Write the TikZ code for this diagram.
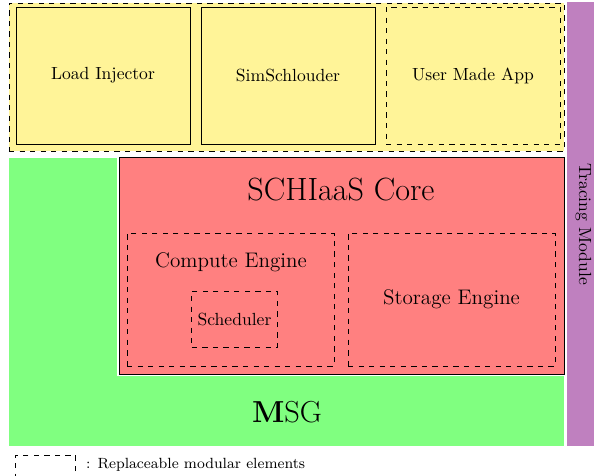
\documentclass[tikz,border=0pt]{standalone}
\usepackage{amsmath}
\usepackage{tikz}

\definecolor{appyellow}{RGB}{255,244,152}

\begin{document}
\begin{tikzpicture}[
	block/.style={rectangle, draw, fill=appyellow, minimum width=3.48cm, minimum height=2.74cm},
	modular/.style={rectangle, draw, dashed},
	engine/.style={modular, minimum width=4.14cm, minimum height=2.66cm}]
	\useasboundingbox (0,0) rectangle (11.88,-9.52);
	% applications
	\node[modular, fill=appyellow, minimum width=11.1cm, minimum height=2.96cm] (apps) at (5.73,-1.54) {};
	\node[block] (injector) at (2.06,-1.51) {Load Injector};
	\node[block] (schlouder) at (5.76,-1.51) {SimSchlouder};
	\node[block, dashed] (userapp) at (9.46,-1.51) {User Made App};
	% tracing
	\node[rectangle, fill=violet!50, minimum width=0.66cm, minimum height=8.88cm] (tracing) at (11.67,-4.48) {};
	\node[rotate=-90] (tracinglabel) at (tracing.center) {Tracing Module};
	% simgrid
	\node[rectangle, fill=green!50, minimum width=11.1cm, minimum height=5.76cm] (msg) at (5.73,-6.04) {};
	\node[font=\LARGE] (msglabel) at (5.74,-8.24) {\textbf{M}SG};
	% core
	\node[rectangle, draw, fill=red!50, preaction={draw=white, line width=2.4pt}, minimum width=8.9cm, minimum height=4.34cm] (core) at (6.83,-5.31) {};
	\node[font=\fontsize{18.3}{22}\selectfont] (corelabel) at (6.82,-3.8) {SCHIaaS Core};
	\node[engine] (compute) at (4.61,-5.99) {};
	\node[font=\large] (computelabel) at (4.62,-5.24) {Compute Engine};
	\node[modular, minimum width=1.7cm, minimum height=1.12cm] (scheduler) at (4.69,-6.38) {Scheduler};
	\node[engine, font=\large] (storage) at (9.03,-5.99) {Storage Engine};
	% legend
	\node[modular, minimum width=1.2cm, minimum height=0.6cm] (legendbox) at (0.91,-9.4) {};
	\node[anchor=west, font=\fontsize{8.4}{10}\selectfont] (legendlabel) at (1.6,-9.3) {: Replaceable modular elements};
\end{tikzpicture}
\end{document}
